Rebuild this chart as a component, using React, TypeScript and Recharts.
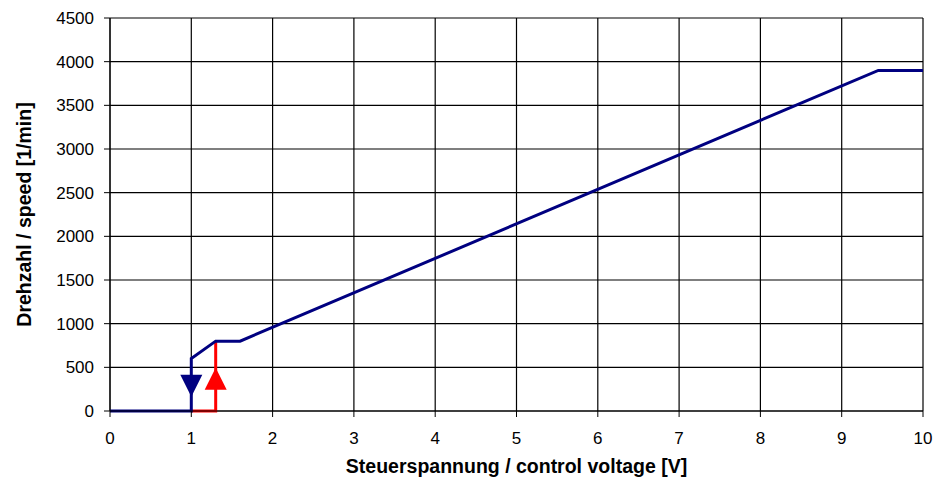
import React from 'react';
import { ComposedChart, Line, Scatter, XAxis, YAxis, CartesianGrid, Label } from 'recharts';

// falling curve (blue) and rising start-up (red)
const downVolt = [0, 1, 1, 1.3, 1.6, 9.45, 10];
const downSpeed = [0, 0, 600, 800, 800, 3900, 3900];
const upVolt = [1, 1.3, 1.3];
const upSpeed = [0, 0, 800];

const xTicks = [0, 1, 2, 3, 4, 5, 6, 7, 8, 9, 10];
const yTicks = [0, 500, 1000, 1500, 2000, 2500, 3000, 3500, 4000, 4500];

const downArrow = [{ v: 1, s: 290 }];
const upArrow = [{ v: 1.3, s: 370 }];

const blueData = downVolt.map((v, i) => ({ v, s: downSpeed[i] }));
const redData = upVolt.map((v, i) => ({ v, s: upSpeed[i] }));

const font = 'Arial, "Liberation Sans", sans-serif';

function Triangle(props: any) {
  const { cx, cy, fill, up } = props;
  const w = 11;
  const h = 11;
  const d = up
    ? `M${cx},${cy - h} L${cx + w},${cy + h} L${cx - w},${cy + h} Z`
    : `M${cx - w},${cy - h} L${cx + w},${cy - h} L${cx},${cy + h} Z`;
  return <path d={d} fill={fill} />;
}

export default function App() {
  return (
    <div style={{ fontFamily: font }}>
      <ComposedChart width={934} height={471} margin={{ top: 10, right: 19, left: 0, bottom: 0 }}>
        <CartesianGrid stroke="#000" strokeWidth={1.2} />
        <XAxis
          dataKey="v"
          type="number"
          domain={[0, 10]}
          ticks={xTicks}
          interval={0}
          height={68}
          tickSize={6}
          tickMargin={15}
          stroke="#000"
          tick={{ fill: '#000', fontSize: 17, fontFamily: font }}
        >
          <Label
            value="Steuerspannung / control voltage [V]"
            position="insideBottom"
            offset={6}
            style={{ fill: '#000', fontSize: 19.5, fontWeight: 'bold', fontFamily: font }}
          />
        </XAxis>
        <YAxis
          dataKey="s"
          type="number"
          domain={[0, 4500]}
          ticks={yTicks}
          interval={0}
          width={102}
          tickSize={6}
          tickMargin={10}
          stroke="#000"
          tick={{ fill: '#000', fontSize: 17, fontFamily: font }}
        >
          <Label
            value="Drehzahl / speed [1/min]"
            angle={-90}
            position="insideLeft"
            offset={16}
            style={{ fill: '#000', fontSize: 19.5, fontWeight: 'bold', fontFamily: font, textAnchor: 'middle' }}
          />
        </YAxis>
        <Line data={redData} dataKey="s" stroke="#ff0000" strokeWidth={3} dot={false} isAnimationActive={false} type="linear" />
        <Line data={blueData} dataKey="s" stroke="#000080" strokeWidth={3} dot={false} isAnimationActive={false} type="linear" />
        <Scatter data={downArrow} dataKey="s" fill="#000080" isAnimationActive={false} shape={<Triangle up={false} />} />
        <Scatter data={upArrow} dataKey="s" fill="#ff0000" isAnimationActive={false} shape={<Triangle up />} />
      </ComposedChart>
    </div>
  );
}
